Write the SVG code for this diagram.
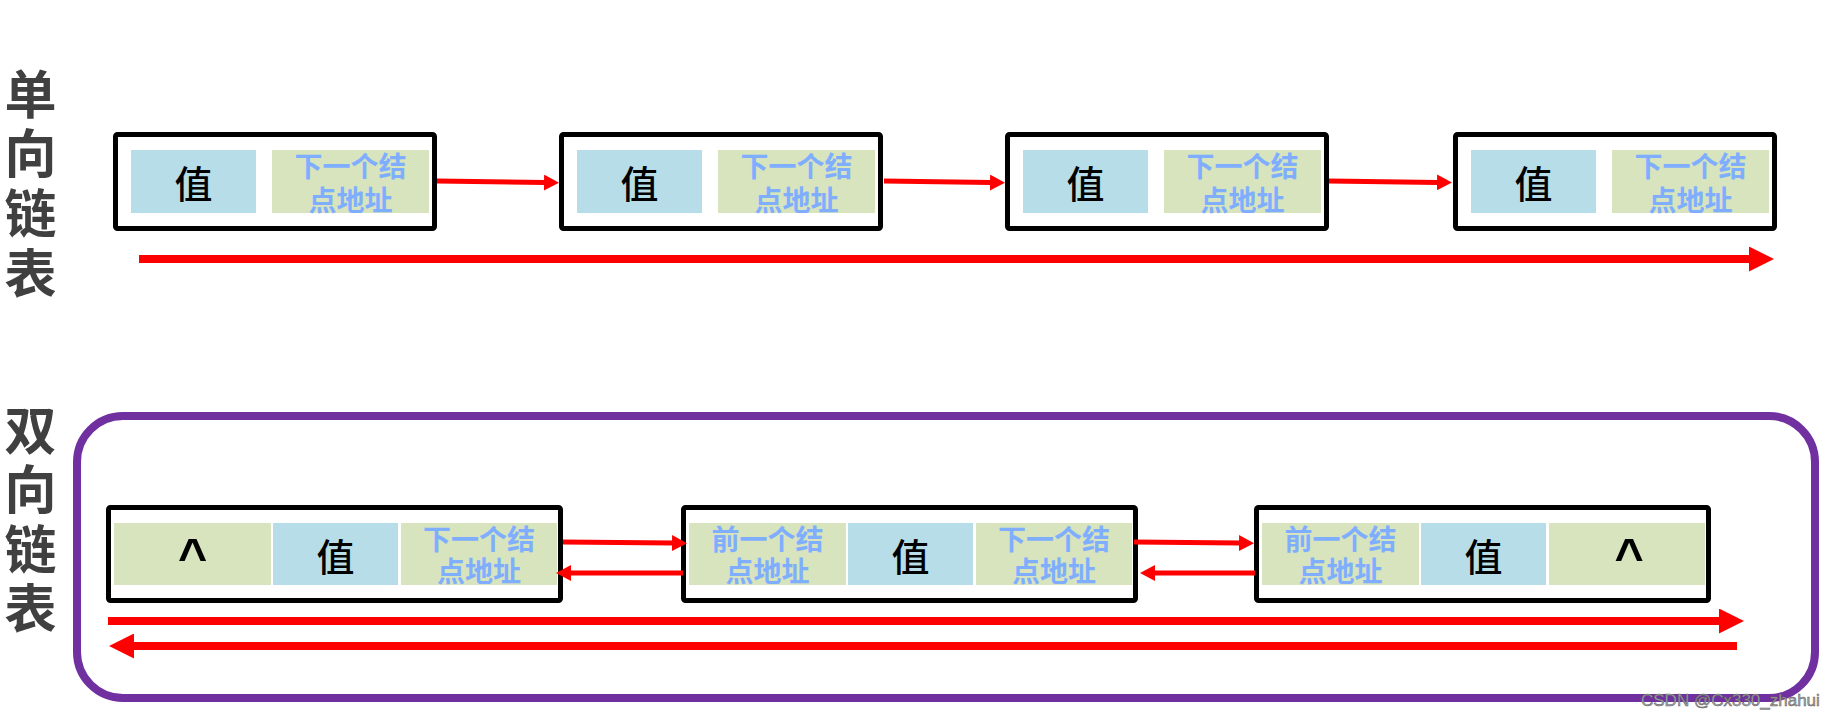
<svg xmlns="http://www.w3.org/2000/svg" width="1834" height="718" viewBox="0 0 1834 718">
  <defs>
    <marker id="ah-s" markerUnits="userSpaceOnUse" markerWidth="16" markerHeight="16" refX="1" refY="8" orient="auto">
      <path d="M0,0 L15,8 L0,16 z" fill="#FF0000"/>
    </marker>
    <marker id="ah-l" markerUnits="userSpaceOnUse" markerWidth="25" markerHeight="25" refX="1" refY="12.5" orient="auto">
      <path d="M0,0 L25,12.5 L0,25 z" fill="#FF0000"/>
    </marker>
  </defs>
  <style>
    .box { fill: #FFFFFF; stroke: #000000; stroke-width: 5; }
    .cb { fill: #B7DEE8; }
    .cg { fill: #D7E4BD; }
    .val { font-family: "Noto Sans CJK SC", "Noto Sans", sans-serif; font-size: 38px; font-weight: 500; fill: #000000; text-anchor: middle; dominant-baseline: central; }
    .addr { font-family: "Noto Sans CJK SC", "Noto Sans", sans-serif; font-size: 28px; font-weight: 700; fill: #80AEFF; text-anchor: middle; dominant-baseline: central; }
    .caret { font-family: "Liberation Sans", Arial, sans-serif; font-size: 50px; font-weight: 700; fill: #000000; text-anchor: middle; }
    .title { font-family: "Noto Sans CJK SC", "Noto Sans", sans-serif; font-size: 52px; font-weight: 700; fill: #404040; text-anchor: middle; dominant-baseline: central; }
    .ln { stroke: #FF0000; stroke-width: 5; fill: none; }
    .lnb { stroke: #FF0000; stroke-width: 8; fill: none; }
    .wm { font-family: "Liberation Sans", Arial, sans-serif; font-size: 17px; fill: #A8A8A8; stroke: #5C5C5C; stroke-width: 0.5; }
  </style>

  <!-- Titles -->
  <g id="title-single">
    <text class="title"><tspan x="30.5" y="91">单</tspan><tspan x="30.5" y="150">向</tspan><tspan x="30.5" y="210">链</tspan><tspan x="30.5" y="270">表</tspan></text>
  </g>
  <g id="title-double">
    <text class="title"><tspan x="30.5" y="427">双</tspan><tspan x="30.5" y="486">向</tspan><tspan x="30.5" y="546">链</tspan><tspan x="30.5" y="605">表</tspan></text>
  </g>

  <!-- Purple frame -->
  <g id="frame-double">
    <rect x="77" y="416" width="1738" height="282" rx="46" ry="46" fill="none" stroke="#7030A0" stroke-width="8"/>
  </g>

  <!-- Single linked list nodes -->
  <g id="s-node-1">
    <rect class="box" x="115.5" y="134.5" width="319" height="94" rx="2"/>
    <rect class="cb" x="131" y="150" width="125" height="63"/>
    <rect class="cg" x="272" y="150" width="157" height="63"/>
    <text class="val" x="193.5" y="181.5">值</text>
    <text class="addr"><tspan x="350.5" y="165">下一个结</tspan><tspan x="350.5" y="199">点地址</tspan></text>
  </g>
  <g id="s-node-2">
    <rect class="box" x="561.5" y="134.5" width="319" height="94" rx="2"/>
    <rect class="cb" x="577" y="150" width="125" height="63"/>
    <rect class="cg" x="718" y="150" width="157" height="63"/>
    <text class="val" x="639.5" y="181.5">值</text>
    <text class="addr"><tspan x="796.5" y="165">下一个结</tspan><tspan x="796.5" y="199">点地址</tspan></text>
  </g>
  <g id="s-node-3">
    <rect class="box" x="1007.5" y="134.5" width="319" height="94" rx="2"/>
    <rect class="cb" x="1023" y="150" width="125" height="63"/>
    <rect class="cg" x="1164" y="150" width="157" height="63"/>
    <text class="val" x="1085.5" y="181.5">值</text>
    <text class="addr"><tspan x="1242.5" y="165">下一个结</tspan><tspan x="1242.5" y="199">点地址</tspan></text>
  </g>
  <g id="s-node-4">
    <rect class="box" x="1455.5" y="134.5" width="319" height="94" rx="2"/>
    <rect class="cb" x="1471" y="150" width="125" height="63"/>
    <rect class="cg" x="1612" y="150" width="157" height="63"/>
    <text class="val" x="1533.5" y="181.5">值</text>
    <text class="addr"><tspan x="1690.5" y="165">下一个结</tspan><tspan x="1690.5" y="199">点地址</tspan></text>
  </g>

  <!-- Double linked list nodes -->
  <g id="d-node-1">
    <rect class="box" x="108.5" y="507.5" width="452" height="93" rx="2"/>
    <rect class="cg" x="114" y="523" width="157" height="62"/>
    <rect class="cb" x="273" y="523" width="125" height="62"/>
    <rect class="cg" x="401" y="523" width="156" height="62"/>
    <text class="caret" x="192.5" y="574">^</text>
    <text class="val" x="335.5" y="554">值</text>
    <text class="addr"><tspan x="479" y="538">下一个结</tspan><tspan x="479" y="570">点地址</tspan></text>
  </g>
  <g id="d-node-2">
    <rect class="box" x="683.5" y="507.5" width="452" height="93" rx="2"/>
    <rect class="cg" x="689" y="523" width="157" height="62"/>
    <rect class="cb" x="848" y="523" width="125" height="62"/>
    <rect class="cg" x="976" y="523" width="156" height="62"/>
    <text class="addr"><tspan x="767.5" y="538">前一个结</tspan><tspan x="767.5" y="570">点地址</tspan></text>
    <text class="val" x="910.5" y="554">值</text>
    <text class="addr"><tspan x="1054" y="538">下一个结</tspan><tspan x="1054" y="570">点地址</tspan></text>
  </g>
  <g id="d-node-3">
    <rect class="box" x="1256.5" y="507.5" width="452" height="93" rx="2"/>
    <rect class="cg" x="1262" y="523" width="157" height="62"/>
    <rect class="cb" x="1421" y="523" width="125" height="62"/>
    <rect class="cg" x="1549" y="523" width="156" height="62"/>
    <text class="addr"><tspan x="1340.5" y="538">前一个结</tspan><tspan x="1340.5" y="570">点地址</tspan></text>
    <text class="val" x="1483.5" y="554">值</text>
    <text class="caret" x="1629" y="574">^</text>
  </g>

  <!-- Connectors -->
  <g id="connectors">
    <line class="ln" x1="437" y1="181" x2="545" y2="182.6" marker-end="url(#ah-s)"/>
    <line class="ln" x1="884" y1="181" x2="991" y2="182.6" marker-end="url(#ah-s)"/>
    <line class="ln" x1="1329" y1="181" x2="1438" y2="182.4" marker-end="url(#ah-s)"/>
    <line class="lnb" x1="139" y1="259" x2="1750" y2="259" marker-end="url(#ah-l)"/>

    <line class="ln" x1="563" y1="542" x2="673" y2="543" marker-end="url(#ah-s)"/>
    <line class="ln" x1="683" y1="573" x2="570" y2="573" marker-end="url(#ah-s)"/>
    <line class="ln" x1="1134" y1="542" x2="1240" y2="543" marker-end="url(#ah-s)"/>
    <line class="ln" x1="1255" y1="573" x2="1154" y2="573" marker-end="url(#ah-s)"/>
    <line class="lnb" x1="108" y1="621" x2="1720" y2="621" marker-end="url(#ah-l)"/>
    <line class="lnb" x1="1737" y1="646" x2="133" y2="646" marker-end="url(#ah-l)"/>
  </g>

  <text class="wm" x="1641" y="706">CSDN @Cx330_zhahui</text>
</svg>
